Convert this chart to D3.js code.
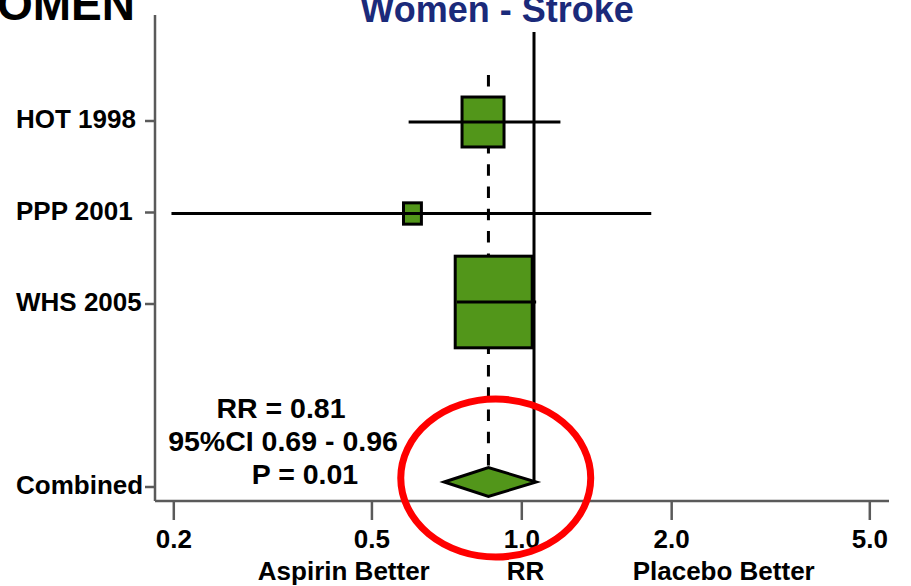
<!DOCTYPE html>
<html><head><meta charset="utf-8">
<script src="https://cdn.jsdelivr.net/npm/d3@7"></script>
<style>
html,body{margin:0;padding:0;background:#fff;}
svg{display:block;font-family:"Liberation Sans",Arial,Helvetica,sans-serif;font-weight:bold;}
</style></head><body>
<svg id="chart" width="911" height="586"></svg>
<script>
// ---- data ----
const studies = ["HOT 1998", "PPP 2001", "WHS 2005"];
const rr      = [0.79, 0.57, 0.83];
const ciLow   = [0.56, 0.187, 0.70];
const ciHigh  = [1.13, 1.72, 1.01];
const weights = [22, 4, 74];
const combinedLabel = "Combined";
const combinedRR = 0.81;
const combinedCI = [0.66, 1.01];
const xTicks = [0.2, 0.5, 1.0, 2.0, 5.0];
const xLabels = ["Aspirin Better", "RR", "Placebo Better"];
const xLabelAt = [0.44, 1.02, 2.55];
const statsText = ["RR = 0.81", "95%CI 0.69 - 0.96", "P = 0.01"];
const title = "Women - Stroke";
const cornerTitle = "WOMEN";
const refRR = 1.0;

const svg = d3.select("#chart");
const axisColor = "#5a5a5a";
const green = "#52961a";

// scales
const x = d3.scaleLog().domain([0.2, 5]).range([173.3, 869.3]);       // axis
const xData = d3.scaleLog().domain([0.2, 5]).range([186, 882]);       // marks (as drawn in source)
const rowIndex = {"HOT 1998":0, "PPP 2001":1, "WHS 2005":2, "Combined":4};
const y = d3.scaleLinear().domain([0, 4]).range([121, 487]);
const size = d3.scaleSqrt().domain([0, 74]).range([0, 77]);

const axisLeftX = 155, axisBottomY = 501, axisTopY = 15, axisRightX = 889;

// corner title (cut off)
svg.append("text").attr("x", 135).attr("y", 20).attr("text-anchor", "end")
  .attr("font-size", 46).attr("fill", "#000").text(cornerTitle);
// title
svg.append("text").attr("x", 497).attr("y", 22).attr("text-anchor", "middle")
  .attr("font-size", 36).attr("fill", "#1b2a7a").text(title);

// axes lines
svg.append("line").attr("x1", axisLeftX).attr("x2", axisLeftX).attr("y1", axisTopY).attr("y2", axisBottomY)
  .attr("stroke", axisColor).attr("stroke-width", 2.5);
svg.append("line").attr("x1", axisLeftX).attr("x2", axisRightX).attr("y1", axisBottomY).attr("y2", axisBottomY)
  .attr("stroke", axisColor).attr("stroke-width", 2.5);

// x axis
const gx = svg.append("g").attr("transform", `translate(0,${axisBottomY})`)
  .call(d3.axisBottom(x).tickValues(xTicks).tickFormat(d3.format(".1f")).tickSize(19).tickPadding(10));
gx.select(".domain").remove();
gx.selectAll(".tick line").attr("stroke", axisColor).attr("stroke-width", 2.5);
gx.selectAll(".tick text").attr("font-size", 26).attr("font-weight", "bold").attr("fill", "#000")
  .attr("font-family", "Liberation Sans, Arial, sans-serif");

// x labels
xLabels.forEach((t, i) => {
  svg.append("text").attr("x", x(xLabelAt[i])).attr("y", 580).attr("text-anchor", "middle")
    .attr("font-size", 26).attr("fill", "#000").text(t);
});

// y axis
const allRows = studies.concat([combinedLabel]);
allRows.forEach(s => {
  const yy = y(rowIndex[s]);
  svg.append("line").attr("x1", axisLeftX - 10).attr("x2", axisLeftX).attr("y1", yy).attr("y2", yy)
    .attr("stroke", axisColor).attr("stroke-width", 2.5);
  svg.append("text").attr("x", 16).attr("y", yy).attr("dy", "0.28em").attr("text-anchor", "start")
    .attr("font-size", 26).attr("fill", "#000").text(s);
});

// dashed combined line
const combY = y(rowIndex[combinedLabel]) - 5;
const dia = 14.5;
svg.append("line").attr("x1", xData(combinedRR)).attr("x2", xData(combinedRR))
  .attr("y1", 75).attr("y2", combY - dia)
  .attr("stroke", "#000").attr("stroke-width", 3).attr("stroke-dasharray", "11.5,10.8");

// boxes
studies.forEach((s, i) => {
  const w = size(weights[i]), h = w * 1.19;
  const cy = y(rowIndex[s]) + (i === 2 ? -2 : 1);
  svg.append("rect").attr("x", xData(rr[i]) - w / 2).attr("y", cy - h / 2)
    .attr("width", w).attr("height", h)
    .attr("fill", green).attr("stroke", "#000").attr("stroke-width", 3);
});
// CI lines
studies.forEach((s, i) => {
  const cy = y(rowIndex[s]) + (i === 2 ? -2 : 1);
  svg.append("line").attr("x1", xData(ciLow[i])).attr("x2", xData(ciHigh[i]))
    .attr("y1", cy).attr("y2", cy).attr("stroke", "#000").attr("stroke-width", 3);
});

// reference line
svg.append("line").attr("x1", xData(refRR)).attr("x2", xData(refRR))
  .attr("y1", 32).attr("y2", combY).attr("stroke", "#000").attr("stroke-width", 3);

// diamond
const dpts = [[xData(combinedCI[0]), combY], [xData(combinedRR), combY - dia],
              [xData(combinedCI[1]), combY], [xData(combinedRR), combY + dia]];
svg.append("path").attr("d", "M" + dpts.map(p => p.join(",")).join("L") + "Z")
  .attr("fill", green).attr("stroke", "#000").attr("stroke-width", 3).attr("stroke-linejoin", "miter");

// stats text
const statsX = [281, 283, 305];
const statsY = [418, 451, 484];
statsText.forEach((t, i) => {
  svg.append("text").attr("x", statsX[i]).attr("y", statsY[i]).attr("text-anchor", "middle")
    .attr("font-size", 28.5).attr("fill", "#000").text(t);
});

// red ellipse annotation
const annoRR = [0.54, 1.30];
const ex0 = xData(annoRR[0]), ex1 = xData(annoRR[1]);
svg.append("ellipse").attr("cx", (ex0 + ex1) / 2).attr("cy", combY - 4)
  .attr("rx", (ex1 - ex0) / 2).attr("ry", 79)
  .attr("fill", "none").attr("stroke", "#f00").attr("stroke-width", 7);
</script>
</body></html>
